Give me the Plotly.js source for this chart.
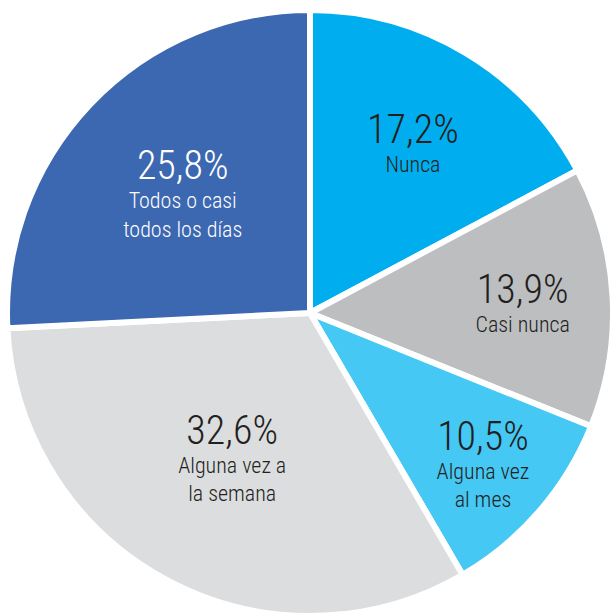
<!DOCTYPE html>
<html>
<head>
<meta charset="utf-8">
<script src="https://cdn.plot.ly/plotly-3.0.1.min.js"></script>
<style>
html,body{margin:0;padding:0;overflow:hidden;background:#fff;}
#chart{width:640px;height:640px;}
#chart text{font-stretch:75% !important;}
</style>
</head>
<body>
<div id="chart"></div>
<script>
const categories = ["Nunca", "Casi nunca", "Alguna vez<br>al mes", "Alguna vez a<br>la semana", "Todos o casi<br>todos los días"];
const values = [17.2, 13.9, 10.5, 32.6, 25.8];
const colors = ["#00AEEF", "#BCBEC0", "#45C8F4", "#DCDDDF", "#3C67B1"];
const textColors = ["#231F20", "#231F20", "#231F20", "#231F20", "#FFFFFF"];

const W = 640, H = 640;
const cx = 310, cy = 313, r = 303;

const trace = {
  type: "pie",
  labels: categories,
  values: values,
  sort: false,
  direction: "clockwise",
  rotation: 0,
  marker: { colors: colors, line: { color: "#FFFFFF", width: 6 } },
  textposition: "inside",
  insidetextorientation: "horizontal",
  texttemplate: "<span style='font-size:40px'>%{value:.1f}%</span><br>%{label}",
  textfont: { family: "Roboto, sans-serif", size: 22, weight: 300, color: textColors },
  hoverinfo: "none",
  showlegend: false,
  domain: { x: [(cx - r) / W, (cx + r) / W], y: [(H - cy - r) / H, (H - cy + r) / H] }
};

Plotly.newPlot("chart", [trace], {
  width: W, height: H,
  margin: { l: 0, r: 0, t: 0, b: 0 },
  paper_bgcolor: "#FFFFFF",
  separators: ",.",
  showlegend: false
}, { staticPlot: true });
</script>
</body>
</html>
